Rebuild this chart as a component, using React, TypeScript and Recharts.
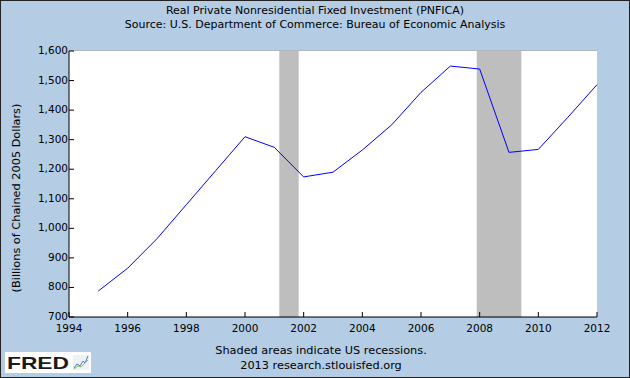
import {
  LineChart,
  Line,
  XAxis,
  YAxis,
  CartesianGrid,
  ReferenceArea,
} from "recharts";

const YEARS = [1995, 1996, 1997, 1998, 1999, 2000, 2001, 2002, 2003, 2004, 2005, 2006, 2007, 2008, 2009, 2010, 2011, 2012];
const PNFICA = [788, 865, 965, 1080, 1195, 1310, 1274, 1174, 1190, 1265, 1350, 1460, 1549, 1539, 1257, 1267, 1375, 1486];
const X_TICKS = [1994, 1996, 1998, 2000, 2002, 2004, 2006, 2008, 2010, 2012];
const Y_TICKS = [700, 800, 900, 1000, 1100, 1200, 1300, 1400, 1500, 1600];
const RECESSIONS = [
  [2001.17, 2001.83],
  [2007.9, 2009.42],
];

const data = YEARS.map((y, i) => ({ year: y, value: PNFICA[i] }));

const FONT = "'DejaVu Sans', Verdana, sans-serif";
const BG = "#b4cde4";

function XTick(props: any) {
  const { x, y, payload } = props;
  return (
    <g>
      <line x1={x} x2={x} y1={y} y2={y - 5} stroke="#000" />
      <text x={x} y={y + 15} textAnchor="middle" fontSize={10.5} fontFamily={FONT} fill="#000">
        {payload.value}
      </text>
    </g>
  );
}

function YTick(props: any) {
  const { x, y, payload } = props;
  return (
    <g>
      <line x1={x} x2={x + 5} y1={y} y2={y} stroke="#000" />
      <text x={x - 1} y={y + 3} textAnchor="end" fontSize={10.5} fontFamily={FONT} fill="#000">
        {payload.value.toLocaleString("en-US")}
      </text>
    </g>
  );
}

export default function App() {
  return (
    <div
      style={{
        position: "absolute",
        top: 0,
        left: 0,
        width: 630,
        height: 378,
        background: BG,
        border: "1px solid #222",
        boxSizing: "border-box",
        fontFamily: FONT,
        color: "#000",
      }}
    >
      <div style={{ position: "absolute", top: 3, width: "100%", textAlign: "center", fontSize: 11 }}>
        Real Private Nonresidential Fixed Investment (PNFICA)
      </div>
      <div style={{ position: "absolute", top: 17, width: "100%", textAlign: "center", fontSize: 11 }}>
        Source: U.S. Department of Commerce: Bureau of Economic Analysis
      </div>
      <div
        style={{
          position: "absolute",
          left: 15,
          top: 197,
          transform: "translate(-50%, -50%) rotate(-90deg)",
          whiteSpace: "nowrap",
          fontSize: 11.3,
        }}
      >
        (Billions of Chained 2005 Dollars)
      </div>
      <div style={{ position: "absolute", left: -1, top: -1 }}>
        <LineChart
          width={630}
          height={378}
          data={data}
          margin={{ top: 51, right: 33, left: 15, bottom: 41 }}
        >
          <rect x={69} y={51} width={528} height={266} fill="#fff" />
          <CartesianGrid horizontal vertical={false} stroke="#b0b0b0" strokeWidth={1.5} />
          {RECESSIONS.map(([a, b], i) => (
            <ReferenceArea key={i} x1={a} x2={b} fill="#bebebe" fillOpacity={1} stroke="none" />
          ))}
          <XAxis
            dataKey="year"
            type="number"
            domain={[1994, 2012]}
            ticks={X_TICKS}
            tick={<XTick />}
            tickLine={false}
            tickSize={0}
            tickMargin={0}
            height={20}
            stroke="#000"
            interval={0}
          />
          <YAxis
            type="number"
            domain={[700, 1600]}
            ticks={Y_TICKS}
            tick={<YTick />}
            tickLine={false}
            tickSize={0}
            tickMargin={0}
            width={54}
            stroke="#000"
            interval={0}
          />
          <Line
            type="linear"
            dataKey="value"
            stroke="#0000ff"
            strokeWidth={1}
            dot={false}
            isAnimationActive={false}
          />
        </LineChart>
      </div>
      <div style={{ position: "absolute", top: 343, width: "100%", textAlign: "center", fontSize: 11.3, paddingLeft: 12, boxSizing: "border-box" }}>
        Shaded areas indicate US recessions.
      </div>
      <div style={{ position: "absolute", top: 358, width: "100%", textAlign: "center", fontSize: 11.3, paddingLeft: 12, boxSizing: "border-box" }}>
        2013 research.stlouisfed.org
      </div>
      <svg width={86} height={21} style={{ position: "absolute", left: 4, top: 351 }}>
        <rect x={0} y={0} width={86} height={21} fill="#fff" />
        <text
          x={2}
          y={17}
          fontFamily="'Liberation Sans', Arial, sans-serif"
          fontWeight={900}
          fontSize={17}
          fill="#1a1a1a"
          textLength={62}
          lengthAdjust="spacingAndGlyphs"
        >
          FRED
        </text>
        <rect x={68} y={3} width={16} height={15} fill="#eef2f6" />
        <polyline points="69,16 72,12 75,14 78,9 80,11 83,4" fill="none" stroke="#4a7fc1" strokeWidth={1} />
        <polyline points="69,17 73,14 76,15 79,12 83,8" fill="none" stroke="#8bbf5a" strokeWidth={1} />
      </svg>
    </div>
  );
}
